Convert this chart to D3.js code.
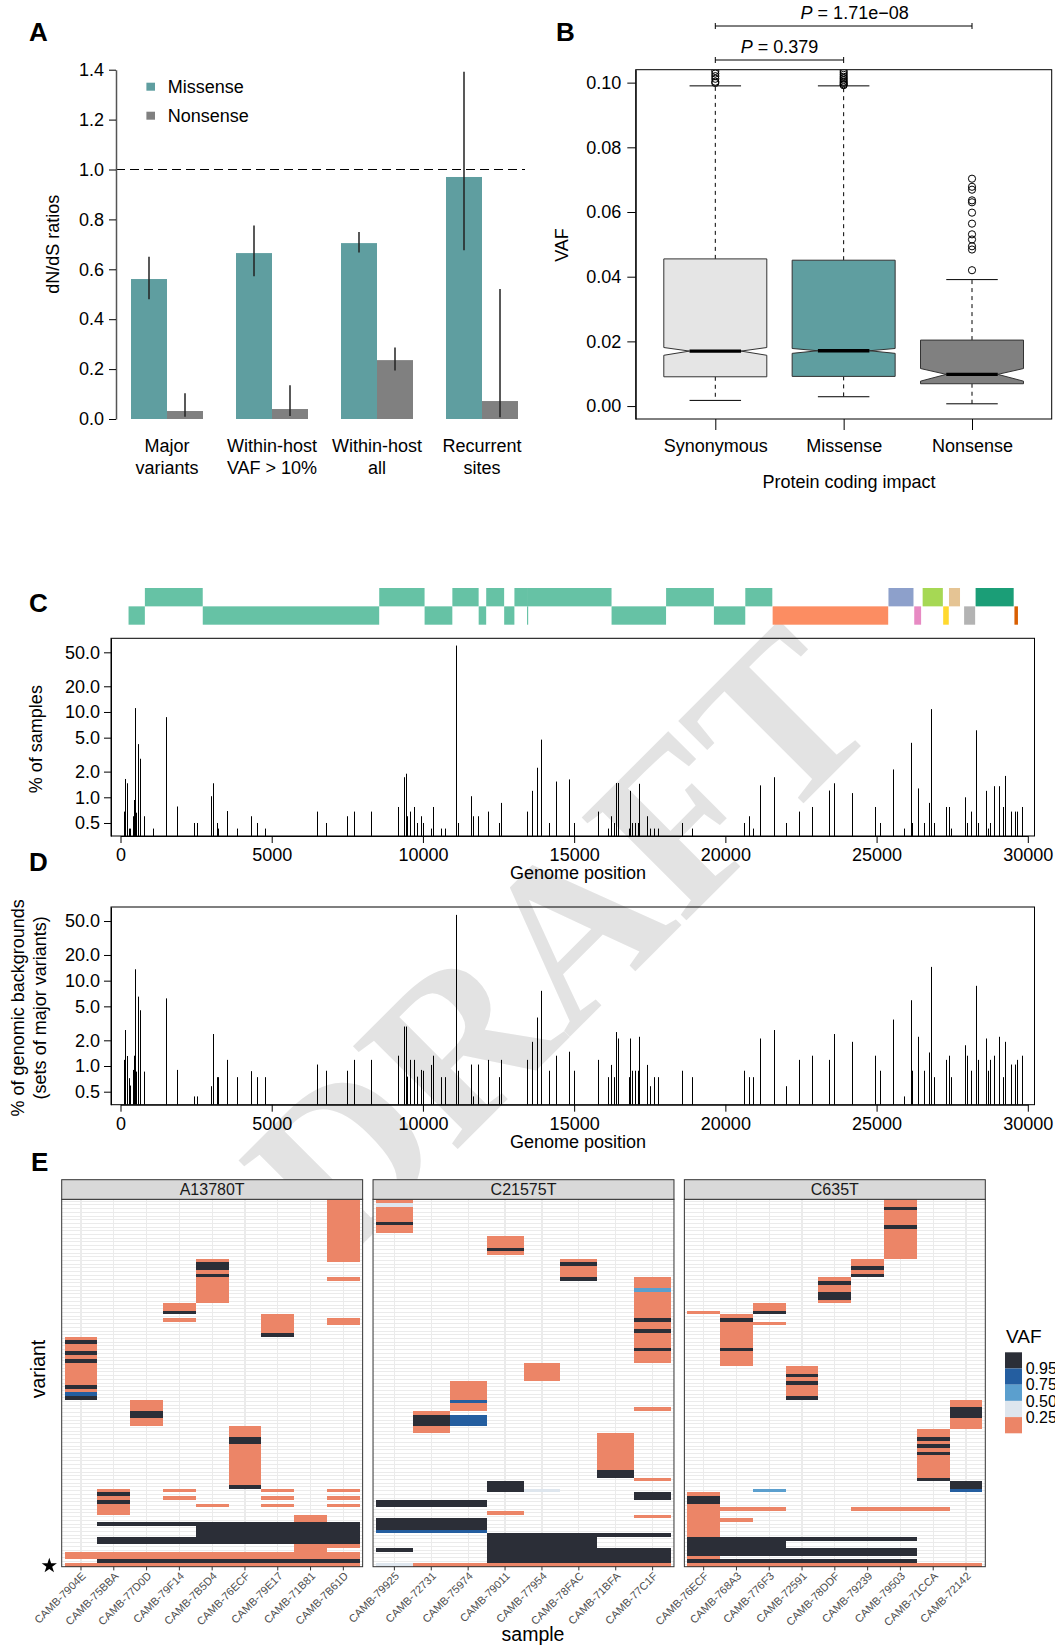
<!DOCTYPE html>
<html><head><meta charset="utf-8">
<script src="https://cdn.jsdelivr.net/npm/d3@7"></script>
<style>
html,body{margin:0;padding:0;background:#fff;}
svg{display:block;font-family:"Liberation Sans",Arial,Helvetica,sans-serif;}
</style></head><body>
<svg id="fig" width="1055" height="1647"></svg>
<script>
// ---------------- Panel A data ----------------
const dndsCategories = ["Major\nvariants", "Within-host\nVAF > 10%", "Within-host\nall", "Recurrent\nsites"];
const dndsSeries = ["Missense", "Nonsense"];
const missenseRatio = [0.561, 0.665, 0.705, 0.970];
const missenseLow   = [0.480, 0.572, 0.667, 0.676];
const missenseHigh  = [0.650, 0.776, 0.750, 1.392];
const nonsenseRatio = [0.032, 0.040, 0.236, 0.072];
const nonsenseLow   = [0.009, 0.012, 0.194, 0.007];
const nonsenseHigh  = [0.103, 0.135, 0.287, 0.521];
const dndsTicks = [0, 0.2, 0.4, 0.6, 0.8, 1.0, 1.2, 1.4];
const dndsReference = 1.0;

// ---------------- Panel B data ----------------
const impactCategories = ["Synonymous", "Missense", "Nonsense"];
const vafQ1 = [0.00905, 0.00917, 0.0069];
const vafMedian = [0.0170, 0.0171, 0.0098];
const vafQ3 = [0.0455, 0.0451, 0.0204];
const vafNotchLow = [0.0157, 0.0163, 0.0077];
const vafNotchHigh = [0.0181, 0.0178, 0.0116];
const vafWhiskerLow = [0.00175, 0.00288, 0.0007];
const vafWhiskerHigh = [0.0990, 0.0990, 0.0391];
const vafOutliersSyn = [0.0999, 0.1003, 0.1012, 0.1020, 0.1028, 0.1036];
const vafOutliersMis = [0.0992, 0.0995, 0.0999, 0.1003, 0.1008, 0.1013, 0.1018, 0.1024, 0.1030, 0.1036];
const vafOutliersNon = [0.0420, 0.0484, 0.0494, 0.0515, 0.0531, 0.0564, 0.0598, 0.0630, 0.0636, 0.0669, 0.0678, 0.0703];
const vafTicks = [0, 0.02, 0.04, 0.06, 0.08, 0.10];
const pTestFrom = [0, 0];
const pTestTo = [1, 2];
const pTestLabel = ["0.379", "1.71e\u221208"];

// ---------------- Panel C/D data ----------------
const geneNames = ["nsp1","nsp2","nsp3","nsp4","nsp5","nsp6","nsp7","nsp8","nsp9","nsp10","nsp11","nsp12","nsp13","nsp14","nsp15","nsp16","S","ORF3a","E","M","ORF6","ORF7a","ORF8","N","ORF10"];
const geneStart = [266,806,2720,8555,10055,10973,11843,12092,12686,13025,13442,13442,16237,18040,19621,20659,21563,25393,26245,26523,27202,27394,27894,28274,29558];
const geneEnd   = [805,2719,8554,10054,10972,11842,12091,12685,13024,13441,13480,16236,18039,19620,20658,21552,25384,26220,26472,27191,27387,27759,28259,29533,29674];
const geneTrack = [1,0,1,0,1,0,1,0,1,0,1,0,1,0,1,0,1,0,1,0,1,0,1,0,1];
const genomeTicks = [0, 5000, 10000, 15000, 20000, 25000, 30000];
const pctTicks = [0.5, 1, 2, 5, 10, 20, 50];

const variantPositions = [127,160,204,270,314,424,457,479,513,590,634,656,777,1064,1515,1879,2441,2519,3003,3059,3180,3235,3533,3841,4304,4525,4789,6512,6790,7495,7718,8296,9164,9364,9430,9475,9564,9697,9809,9920,10009,10254,10320,10610,10743,11083,11144,11588,11655,11811,12145,12499,12566,13434,13590,13768,13902,14169,14392,14814,14992,15793,16127,16216,16305,16372,16461,16817,16861,16928,17017,17106,17150,17417,17506,17640,17773,18552,18886,20621,20777,20910,21133,21600,22000,22445,22868,23424,23580,24181,24937,25114,25537,25893,26138,26183,26361,26584,26740,26806,26895,27295,27384,27451,27940,27985,28118,28274,28341,28607,28674,28763,28897,29052,29164,29253,29453,29564,29653,29808];
const pctSamples = [0.68,1.64,1.46,0.43,0.43,0.6,0.93,11.1,0.66,4.2,2.83,1.48,0.6,0.43,8.7,0.78,0.5,0.5,1.03,1.46,0.5,0.43,0.69,0.43,0.6,0.5,0.43,0.68,0.5,0.6,0.68,0.68,0.77,1.72,1.89,0.6,0.68,0.77,0.5,0.6,0.5,0.43,0.77,0.43,0.43,60,0.5,1.03,0.6,0.6,0.68,0.5,0.86,0.68,1.19,2.22,4.74,0.5,1.53,1.62,0.5,0.68,0.43,0.6,0.5,1.47,1.47,0.43,1.19,0.5,0.5,0.5,1.44,0.6,0.43,0.43,0.43,0.5,0.43,0.5,0.6,0.43,1.38,1.72,0.5,0.68,0.77,1.2,1.46,1.12,0.77,0.5,2.12,0.43,4.35,0.5,1.27,0.5,0.86,10.8,0.5,0.77,0.77,0.43,1.0,0.5,0.68,6.1,0.5,1.19,0.43,0.5,1.35,1.35,0.77,1.78,0.68,0.68,0.68,0.77];
const pctBackgrounds = [1.18,2.64,1.31,0.72,0.59,0.9,1.32,13.6,0.86,6.5,4.5,0.86,0.86,0,6.2,0.9,0.44,0.44,0.58,2.37,0.74,0.74,1.18,0.74,0.87,0.74,0.74,1.04,0.88,0.88,1.18,1.18,1.32,2.9,2.9,0.75,1.18,1.18,0.75,0.9,0.88,1.03,1.32,0.74,0.74,59,0.88,1.04,0.44,1.04,1.18,0.74,1.18,1.18,1.92,3.7,7.6,0.88,1.32,1.47,0.88,1.18,0.74,1.03,0.74,2.5,2.1,0.74,2.1,0.88,0.88,0.88,2.2,1.03,0.58,0.74,0.74,0.88,0.74,0.88,0.74,0.74,2.1,2.64,0.58,1.18,1.32,1.18,2.37,1.92,1.32,0.88,3.5,0.44,5.9,0.88,2.2,0.88,1.44,14.5,0.74,1.18,1.32,0.74,1.75,1.32,0.88,8.7,1.18,2.1,0.88,1.18,1.32,2.2,0.74,1.92,1.04,1.04,1.18,1.32];

// ---------------- Panel E data ----------------
const facetNames = ["A13780T", "C21575T", "C635T"];
const samplesA13780T = ["CAMB-7904E","CAMB-75BBA","CAMB-77D0D","CAMB-79F14","CAMB-7B5D4","CAMB-76ECF","CAMB-79E17","CAMB-71B81","CAMB-7B61D"];
const samplesC21575T = ["CAMB-79925","CAMB-72731","CAMB-75974","CAMB-79011","CAMB-77954","CAMB-78FAC","CAMB-71BFA","CAMB-77C1F"];
const samplesC635T = ["CAMB-76ECF","CAMB-768A3","CAMB-776F3","CAMB-72591","CAMB-78DDF","CAMB-79239","CAMB-79503","CAMB-71CCA","CAMB-72142"];
const variantCount = 99;
const starVariant = 98;
// [sample index, first variant row, last variant row, VAF]
const tilesA13780T = [
[0,37,53,0.1],[0,38,38,0.98],[0,41,41,0.98],[0,43,43,0.98],[0,50,50,0.98],[0,52,52,0.85],[0,53,53,0.98],[0,95,96,0.1],[0,98,98,0.1],
[1,78,84,0.1],[1,79,79,0.98],[1,81,81,0.98],[1,87,87,0.98],[1,91,92,0.98],[1,95,96,0.1],[1,97,97,0.98],[1,98,98,0.1],
[2,54,60,0.1],[2,57,58,0.98],[2,87,87,0.98],[2,91,92,0.98],[2,95,96,0.1],[2,97,97,0.98],[2,98,98,0.1],
[3,28,30,0.1],[3,30,30,0.98],[3,32,32,0.1],[3,78,78,0.1],[3,80,80,0.1],[3,87,87,0.98],[3,91,92,0.98],[3,95,96,0.1],[3,97,97,0.98],[3,98,98,0.1],
[4,16,27,0.1],[4,17,18,0.98],[4,20,20,0.98],[4,82,82,0.1],[4,87,92,0.98],[4,95,96,0.1],[4,97,97,0.98],[4,98,98,0.1],
[5,61,77,0.1],[5,64,65,0.98],[5,77,77,0.98],[5,87,92,0.98],[5,95,96,0.1],[5,97,97,0.98],[5,98,98,0.1],
[6,31,36,0.1],[6,36,36,0.98],[6,78,78,0.1],[6,80,80,0.1],[6,82,82,0.1],[6,87,92,0.98],[6,95,96,0.1],[6,97,97,0.98],[6,98,98,0.1],
[7,85,86,0.1],[7,87,92,0.98],[7,93,96,0.1],[7,97,97,0.98],[7,98,98,0.1],
[8,0,16,0.1],[8,21,21,0.1],[8,32,33,0.1],[8,78,78,0.1],[8,80,80,0.1],[8,82,82,0.1],[8,87,92,0.98],[8,93,93,0.1],[8,95,96,0.1],[8,97,97,0.98],[8,98,98,0.1]
];
const tilesC21575T = [
[0,0,0,0.1],[0,1,1,0.35],[0,2,8,0.1],[0,6,6,0.98],[0,81,82,0.98],[0,86,88,0.98],[0,89,89,0.85],[0,94,94,0.98],[0,98,98,0.35],
[1,57,62,0.1],[1,58,60,0.98],[1,81,82,0.98],[1,86,88,0.98],[1,89,89,0.85],[1,98,98,0.1],
[2,49,56,0.1],[2,54,54,0.85],[2,58,60,0.85],[2,81,82,0.98],[2,86,88,0.98],[2,89,89,0.85],[2,98,98,0.1],
[3,10,14,0.1],[3,13,13,0.98],[3,76,78,0.98],[3,84,84,0.1],[3,90,97,0.98],[3,98,98,0.1],
[4,44,48,0.1],[4,78,78,0.35],[4,90,97,0.98],[4,98,98,0.1],
[5,16,21,0.1],[5,17,17,0.98],[5,21,21,0.98],[5,90,97,0.98],[5,98,98,0.1],
[6,63,74,0.1],[6,73,74,0.98],[6,90,90,0.98],[6,94,97,0.98],[6,98,98,0.1],
[7,21,43,0.1],[7,24,24,0.6],[7,32,32,0.98],[7,35,35,0.98],[7,40,40,0.98],[7,56,56,0.1],[7,75,75,0.1],[7,79,80,0.98],[7,85,85,0.1],[7,90,90,0.98],[7,94,97,0.98],[7,98,98,0.1]
];
const tilesC635T = [
[0,30,30,0.1],[0,79,96,0.1],[0,80,81,0.98],[0,91,95,0.98],[0,97,97,0.98],[0,98,98,0.1],
[1,31,44,0.1],[1,32,32,0.98],[1,40,40,0.98],[1,83,83,0.1],[1,86,86,0.1],[1,91,95,0.98],[1,97,97,0.98],[1,98,98,0.1],
[2,28,30,0.1],[2,30,30,0.98],[2,33,33,0.1],[2,78,78,0.6],[2,83,83,0.1],[2,91,95,0.98],[2,97,97,0.98],[2,98,98,0.1],
[3,45,53,0.1],[3,47,47,0.98],[3,49,49,0.98],[3,53,53,0.98],[3,91,91,0.98],[3,94,95,0.98],[3,97,97,0.98],[3,98,98,0.1],
[4,21,27,0.1],[4,22,22,0.98],[4,25,26,0.98],[4,91,91,0.98],[4,94,95,0.98],[4,97,97,0.98],[4,98,98,0.1],
[5,16,20,0.1],[5,18,18,0.98],[5,20,20,0.98],[5,83,83,0.1],[5,91,91,0.98],[5,94,95,0.98],[5,97,97,0.98],[5,98,98,0.1],
[6,0,15,0.1],[6,2,2,0.98],[6,7,7,0.98],[6,83,83,0.1],[6,91,91,0.98],[6,94,95,0.98],[6,97,97,0.98],[6,98,98,0.1],
[7,62,75,0.1],[7,64,64,0.98],[7,66,66,0.98],[7,68,68,0.98],[7,75,75,0.98],[7,83,83,0.1],[7,98,98,0.1],
[8,54,61,0.1],[8,56,58,0.98],[8,76,77,0.98],[8,78,78,0.85],[8,98,98,0.1]
];
const vafBreaks = [0.25, 0.5, 0.75, 0.95];
const vafBreakLabels = ["0.95", "0.75", "0.50", "0.25"];

// =================================================================
const svg = d3.select("#fig");
const FS = 18;

function styleAxis(g, fs, col) {
  g.attr("font-family", null).attr("font-size", null);
  g.selectAll("text").style("font-size", fs + "px").attr("fill", col || "#000");
  g.selectAll(".tick line").attr("stroke", "#000");
  g.select(".domain").attr("stroke", "#000");
}

// ---- watermark ----
svg.append("text")
  .attr("transform", "translate(560,942) rotate(-45)")
  .attr("text-anchor", "middle").attr("dy", "0.33em")
  .style("font-family", "'Liberation Serif','Times New Roman',serif")
  .style("font-weight", "bold")
  .style("font-size", "224px").attr("fill", "#e3e3e3")
  .text("DRAFT");

// ---- panel letters ----
const panelLetters = [["A", 29, 41], ["B", 556, 41], ["C", 29, 612], ["D", 29, 871], ["E", 31, 1171]];
svg.selectAll("text.plab").data(panelLetters).join("text").attr("class", "plab")
  .attr("x", d => d[1]).attr("y", d => d[2]).text(d => d[0])
  .style("font-size", "26px").style("font-weight", "bold");

// ================= Panel A =================
{
  const g = svg.append("g");
  const xA = d3.scalePoint().domain(dndsCategories).range([167, 482]);
  const xSub = d3.scaleBand().domain(dndsSeries).range([-36, 36]);
  const yA = d3.scaleLinear().domain([0, 1.4]).range([419, 69.7]);
  const col = d3.scaleOrdinal().domain(dndsSeries).range(["#5F9EA0", "#808080"]);
  const rows = dndsCategories.flatMap((c, i) => [
    {c, s: "Missense", v: missenseRatio[i], lo: missenseLow[i], hi: missenseHigh[i]},
    {c, s: "Nonsense", v: nonsenseRatio[i], lo: nonsenseLow[i], hi: nonsenseHigh[i]}]);
  g.selectAll("rect.bar").data(rows).join("rect")
    .attr("x", d => xA(d.c) + xSub(d.s)).attr("width", xSub.bandwidth())
    .attr("y", d => yA(d.v)).attr("height", d => yA(0) - yA(d.v)).attr("fill", d => col(d.s));
  g.append("line").attr("x1", 116).attr("x2", 525).attr("y1", yA(dndsReference)).attr("y2", yA(dndsReference))
    .attr("stroke", "#000").attr("stroke-dasharray", "9,5");
  g.selectAll("line.err").data(rows).join("line")
    .attr("x1", d => xA(d.c) + xSub(d.s) + xSub.bandwidth() / 2).attr("x2", d => xA(d.c) + xSub(d.s) + xSub.bandwidth() / 2)
    .attr("y1", d => yA(d.lo)).attr("y2", d => yA(d.hi)).attr("stroke", "#222").attr("stroke-width", 1.5);
  const ax = g.append("g").attr("transform", "translate(116,0)")
    .call(d3.axisLeft(yA).tickValues(dndsTicks).tickFormat(d3.format(".1f")).tickSize(7).tickSizeOuter(0).tickPadding(5));
  styleAxis(ax, FS);
  ax.select(".domain").attr("stroke", "#555").attr("stroke-width", 1.5);
  g.append("text").attr("transform", `translate(58.5,${(yA(0) + yA(1.4)) / 2}) rotate(-90)`)
    .attr("text-anchor", "middle").style("font-size", FS + "px").text("dN/dS ratios");
  const lg = g.selectAll("g.lg").data(dndsSeries).join("g").attr("transform", (d, i) => `translate(146.4,${86.7 + i * 29})`);
  lg.append("rect").attr("x", 0).attr("y", -4).attr("width", 8.6).attr("height", 8).attr("fill", d => col(d));
  lg.append("text").attr("x", 21.3).attr("y", 6.5).style("font-size", FS + "px").text(d => d);
  const xl = g.selectAll("text.xl").data(dndsCategories).join("text")
    .attr("text-anchor", "middle").style("font-size", FS + "px");
  xl.selectAll("tspan").data(d => d.split("\n").map(t => ({t, x: xA(d)}))).join("tspan")
    .attr("x", d => d.x).attr("y", (d, i) => 452 + i * 22.3).text(d => d.t);
}

// ================= Panel B =================
{
  const g = svg.append("g");
  const L = 635.7, R = 1051.7;
  const xB = d3.scalePoint().domain(impactCategories).range([715.3, 972]);
  const yB = d3.scaleLinear().domain([-0.004, 0.104]).range([419, 69.7]);
  const fill = d3.scaleOrdinal().domain(impactCategories).range(["#E5E5E5", "#5F9EA0", "#808080"]);
  const hw = 51.5;
  const outl = [vafOutliersSyn, vafOutliersMis, vafOutliersNon];
  svg.append("clipPath").attr("id", "clipB").append("rect").attr("x", L).attr("y", yB(0.104)).attr("width", R - L).attr("height", yB(-0.004) - yB(0.104));
  const gc = g.append("g").attr("clip-path", "url(#clipB)");
  impactCategories.forEach((c, i) => {
    const cx = xB(c), q1 = yB(vafQ1[i]), q3 = yB(vafQ3[i]), m = yB(vafMedian[i]), nl = yB(vafNotchLow[i]), nh = yB(vafNotchHigh[i]);
    gc.append("line").attr("x1", cx).attr("x2", cx).attr("y1", q3).attr("y2", yB(vafWhiskerHigh[i])).attr("stroke", "#000").attr("stroke-dasharray", "4,4");
    gc.append("line").attr("x1", cx).attr("x2", cx).attr("y1", q1).attr("y2", yB(vafWhiskerLow[i])).attr("stroke", "#000").attr("stroke-dasharray", "4,4");
    [vafWhiskerHigh[i], vafWhiskerLow[i]].forEach(w => gc.append("line").attr("x1", cx - hw / 2).attr("x2", cx + hw / 2).attr("y1", yB(w)).attr("y2", yB(w)).attr("stroke", "#000"));
    const p = d3.path();
    p.moveTo(cx - hw, q1); p.lineTo(cx - hw, nl); p.lineTo(cx - hw / 2, m); p.lineTo(cx - hw, nh); p.lineTo(cx - hw, q3);
    p.lineTo(cx + hw, q3); p.lineTo(cx + hw, nh); p.lineTo(cx + hw / 2, m); p.lineTo(cx + hw, nl); p.lineTo(cx + hw, q1); p.closePath();
    gc.append("path").attr("d", p.toString()).attr("fill", fill(c)).attr("stroke", "#333").attr("stroke-width", 1);
    gc.append("line").attr("x1", cx - hw / 2).attr("x2", cx + hw / 2).attr("y1", m).attr("y2", m).attr("stroke", "#000").attr("stroke-width", 3.3);
    gc.selectAll(null).data(outl[i]).join("circle").attr("cx", cx).attr("cy", d => yB(d)).attr("r", 3.6)
      .attr("fill", "none").attr("stroke", "#000").attr("stroke-width", 1);
  });
  g.append("rect").attr("x", L).attr("y", yB(0.104)).attr("width", R - L).attr("height", yB(-0.004) - yB(0.104))
    .attr("fill", "none").attr("stroke", "#000");
  const ay = g.append("g").attr("transform", `translate(${L},0)`)
    .call(d3.axisLeft(yB).tickValues(vafTicks).tickFormat(d3.format(".2f")).tickSize(8.4).tickSizeOuter(0).tickPadding(6));
  styleAxis(ay, FS);
  const axb = g.append("g").attr("transform", `translate(0,${yB(-0.004)})`)
    .call(d3.axisBottom(xB).tickSize(11).tickSizeOuter(0).tickPadding(9.2));
  styleAxis(axb, FS);
  axb.select(".domain").remove();
  g.append("text").attr("transform", "translate(568,245) rotate(-90)").attr("text-anchor", "middle").style("font-size", FS + "px").text("VAF");
  g.append("text").attr("x", 849).attr("y", 487.5).attr("text-anchor", "middle").style("font-size", FS + "px").text("Protein coding impact");
  pTestLabel.forEach((lab, k) => {
    const x1 = xB(impactCategories[pTestFrom[k]]), x2 = xB(impactCategories[pTestTo[k]]);
    const yy = yB(0.104) - 9.7 - k * 34;
    g.append("line").attr("x1", x1).attr("x2", x2).attr("y1", yy).attr("y2", yy).attr("stroke", "#000");
    [x1, x2].forEach(x => g.append("line").attr("x1", x).attr("x2", x).attr("y1", yy - 3).attr("y2", yy + 3).attr("stroke", "#000"));
    const t = g.append("text").attr("x", (x1 + x2) / 2 + k * 11).attr("y", yy - 6.7).attr("text-anchor", "middle").style("font-size", FS + "px");
    t.append("tspan").style("font-style", "italic").text("P");
    t.append("tspan").text(" = " + lab);
  });
}

// ================= Panels C & D =================
const xG = d3.scaleLinear().domain([0, 30000]).range([120.5, 1027.8]);
{
  const trackY = d3.scaleBand().domain([0, 1]).range([588, 624.7]);
  const geneColor = d3.scaleOrdinal()
    .domain(["ORF1ab","S","ORF3a","E","M","ORF6","ORF7a","ORF8","N","ORF10"])
    .range(["#66C2A5","#FC8D62","#8DA0CB","#E78AC3","#A6D854","#FFD92F","#E5C494","#B3B3B3","#1B9E77","#D95F02"]);
  svg.append("g").selectAll("rect").data(geneNames.map((n, i) => ({n, s: geneStart[i], e: geneEnd[i], t: geneTrack[i]}))).join("rect")
    .attr("x", d => xG(d.s)).attr("width", d => xG(d.e) - xG(d.s))
    .attr("y", d => trackY(d.t)).attr("height", trackY.bandwidth())
    .attr("fill", d => geneColor(d.n.startsWith("nsp") ? "ORF1ab" : d.n));
}
function genomePanel(top, bottom, values, labelLines) {
  const g = svg.append("g");
  const y = d3.scaleLog().domain([0.352, 73]).range([bottom, top]);
  const data = variantPositions.map((p, i) => ({p, v: values[i]})).filter(d => d.v > 0);
  g.selectAll("line.bar").data(data).join("line")
    .attr("x1", d => Math.round(xG(d.p)) + 0.5).attr("x2", d => Math.round(xG(d.p)) + 0.5)
    .attr("y1", d => y(d.v)).attr("y2", bottom).attr("stroke", "#000").attr("stroke-width", 1);
  g.append("rect").attr("x", 111).attr("y", top).attr("width", 1034.5 - 111).attr("height", bottom - top)
    .attr("fill", "none").attr("stroke", "#000");
  const ay = g.append("g").attr("transform", "translate(111,0)")
    .call(d3.axisLeft(y).tickValues(pctTicks).tickFormat(d3.format(".1f")).tickSize(7).tickSizeOuter(0).tickPadding(4));
  styleAxis(ay, FS);
  const ax = g.append("g").attr("transform", `translate(0,${bottom})`)
    .call(d3.axisBottom(xG).tickValues(genomeTicks).tickFormat(d3.format("d")).tickSize(7).tickSizeOuter(0).tickPadding(5.2));
  styleAxis(ax, FS);
  g.append("text").attr("x", 578).attr("y", bottom + 43).attr("text-anchor", "middle").style("font-size", FS + "px").text("Genome position");
  labelLines.forEach(([t, x]) => g.append("text").attr("transform", `translate(${x},${(top + bottom) / 2 + 2}) rotate(-90)`)
    .attr("text-anchor", "middle").style("font-size", FS + "px").text(t));
}
genomePanel(638.3, 836, pctSamples, [["% of samples", 42]]);
genomePanel(907, 1104.7, pctBackgrounds, [["% of genomic backgrounds", 24], ["(sets of major variants)", 46]]);

// ================= Panel E =================
{
  const vafColor = d3.scaleThreshold().domain(vafBreaks).range(["#EC8567", "#DEE6EE", "#5B9FCE", "#245EA0", "#2B2E37"]);
  const facetSamples = [samplesA13780T, samplesC21575T, samplesC635T];
  const facetTiles = [tilesA13780T, tilesC21575T, tilesC635T];
  const rowIds = d3.range(variantCount);
  const panelTop = 1199.3, panelBottom = 1566.7, stripTop = 1179.7;
  const xFacet = d3.scaleBand().domain(facetNames).range([61.7, 985.3]).paddingInner(0.0334);
  const yE = d3.scaleBand().domain(rowIds).range([panelTop, panelBottom]);
  facetNames.forEach((f, fi) => {
    const x0 = xFacet(f), x1 = x0 + xFacet.bandwidth();
    const samples = facetSamples[fi];
    const xs = d3.scaleBand().domain(samples).range([x0 + 2.9, x1 - 2.9]);
    const g = svg.append("g");
    g.append("rect").attr("x", x0).attr("y", panelTop).attr("width", x1 - x0).attr("height", panelBottom - panelTop).attr("fill", "#fff");
    g.selectAll("line.h").data(rowIds).join("line")
      .attr("x1", x0).attr("x2", x1).attr("y1", d => yE(d) + yE.bandwidth() / 2).attr("y2", d => yE(d) + yE.bandwidth() / 2)
      .attr("stroke", "#EBEBEB").attr("stroke-width", 1).attr("shape-rendering", "crispEdges");
    g.selectAll("line.v").data(samples).join("line")
      .attr("x1", d => xs(d) + xs.bandwidth() / 2).attr("x2", d => xs(d) + xs.bandwidth() / 2).attr("y1", panelTop).attr("y2", panelBottom)
      .attr("stroke", "#EBEBEB").attr("stroke-width", 1.2).attr("shape-rendering", "crispEdges");
    g.selectAll("rect.tile").data(facetTiles[fi]).join("rect")
      .attr("x", d => xs(samples[d[0]])).attr("width", xs.bandwidth())
      .attr("y", d => yE(d[1])).attr("height", d => yE(d[2]) + yE.bandwidth() - yE(d[1]))
      .attr("fill", d => vafColor(d[3])).attr("shape-rendering", "crispEdges");
    g.append("rect").attr("x", x0).attr("y", panelTop).attr("width", x1 - x0).attr("height", panelBottom - panelTop)
      .attr("fill", "none").attr("stroke", "#333");
    g.append("rect").attr("x", x0).attr("y", stripTop).attr("width", x1 - x0).attr("height", panelTop - stripTop)
      .attr("fill", "#D9D9D9").attr("stroke", "#333");
    g.append("text").attr("x", (x0 + x1) / 2).attr("y", 1195).attr("text-anchor", "middle").attr("fill", "#1A1A1A")
      .style("font-size", "16px").text(f);
    const ax = g.append("g").attr("transform", `translate(0,${panelBottom})`)
      .call(d3.axisBottom(xs).tickSize(3.7).tickSizeOuter(0).tickPadding(2));
    ax.attr("font-family", null).attr("font-size", null);
    ax.select(".domain").remove();
    ax.selectAll(".tick line").attr("stroke", "#333");
    ax.selectAll("text").attr("y", 0).attr("dy", "0.71em").attr("text-anchor", "end")
      .attr("transform", "translate(0,4.5) rotate(-45)").attr("fill", "#4D4D4D").style("font-size", "11px");
  });
  svg.append("path").attr("d", d3.symbol(d3.symbolStar, 72)())
    .attr("transform", `translate(49.3,${yE(starVariant) + yE.bandwidth() / 2 + 1})`).attr("fill", "#000");
  svg.append("text").attr("transform", "translate(45,1369) rotate(-90)").attr("text-anchor", "middle").style("font-size", "19.5px").text("variant");
  svg.append("text").attr("x", 533).attr("y", 1641).attr("text-anchor", "middle").style("font-size", "19.5px").text("sample");
  const legColors = vafColor.range().slice().reverse();
  const ky = d3.scaleBand().domain(d3.range(legColors.length)).range([1352.3, 1433.3]);
  svg.append("text").attr("x", 1006).attr("y", 1343).style("font-size", "19px").text("VAF");
  svg.selectAll("rect.key").data(legColors).join("rect").attr("class", "key")
    .attr("x", 1005).attr("width", 17).attr("y", (d, i) => ky(i)).attr("height", ky.bandwidth()).attr("fill", d => d);
  svg.selectAll("text.klab").data(vafBreakLabels).join("text").attr("class", "klab")
    .attr("x", 1025.7).attr("y", (d, i) => ky(i) + ky.bandwidth()).attr("dy", "0.35em")
    .style("font-size", "16px").text(d => d);
}
</script>
</body></html>
